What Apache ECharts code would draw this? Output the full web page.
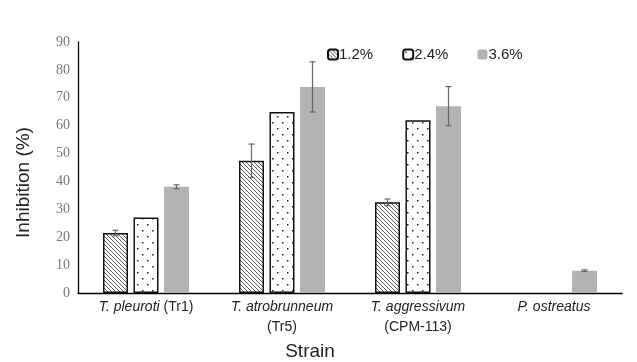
<!DOCTYPE html>
<html><head><meta charset="utf-8">
<script src="https://cdn.jsdelivr.net/npm/echarts@6/dist/echarts.min.js"></script>
<style>html,body{margin:0;padding:0;background:#fff}#c{width:637px;height:362px}</style>
</head><body><div id="c"></div>
<script>
var species = ['T. pleuroti', 'T. atrobrunneum', 'T. aggressivum', 'P. ostreatus'];
var codes = ['(Tr1)', '(Tr5)', '(CPM-113)', ''];
var seriesNames = ['1.2%', '2.4%', '3.6%'];
var v12 = [21.5, 47.4, 32.5, null];
var v24 = [27.1, 64.9, 61.9, null];
var v36 = [38.1, 73.9, 67.0, 8.0];
var e12 = [1.0, 6.0, 1.2, 0];
var e36 = [0.7, 9.0, 7.0, 0.3];
var yTicks = [0, 10, 20, 30, 40, 50, 60, 70, 80, 90];

function makePattern(kind) {
  var c = document.createElement('canvas');
  if (kind === 'hatch') {
    c.width = 4; c.height = 4;
    var g = c.getContext('2d');
    g.fillStyle = '#fff'; g.fillRect(0, 0, 4, 4);
    g.strokeStyle = '#444'; g.lineWidth = 0.9;
    for (var k = -4; k <= 4; k += 4) {
      g.beginPath(); g.moveTo(k, 0); g.lineTo(k + 4, 4); g.stroke();
    }
  } else {
    c.width = 10; c.height = 12;
    var g2 = c.getContext('2d');
    g2.fillStyle = '#fff'; g2.fillRect(0, 0, 10, 12);
    g2.fillStyle = '#222';
    g2.fillRect(2, 2, 1.5, 1.5);
    g2.fillRect(7, 8, 1.5, 1.5);
  }
  return { image: c, repeat: 'repeat' };
}

var barW = 25, gapPx = 5.5;
var step = barW + gapPx;

function errSeries(vals, errs, idx) {
  var data = vals.map(function (v, i) { return [i, v, errs[i]]; });
  return {
    type: 'custom', silent: true, z: 10,
    data: data,
    renderItem: function (params, api) {
      var i = api.value(0), v = api.value(1), e = api.value(2);
      if (!e) return null;
      var top = api.coord([i, v + e]);
      var bot = api.coord([i, v - e]);
      var x = top[0] + (idx - 1) * step;
      var cap = 3;
      var st = { stroke: '#666', lineWidth: 1.2 };
      return { type: 'group', children: [
        { type: 'line', shape: { x1: x, y1: top[1], x2: x, y2: bot[1] }, style: st },
        { type: 'line', shape: { x1: x - cap, y1: top[1], x2: x + cap, y2: top[1] }, style: st },
        { type: 'line', shape: { x1: x - cap, y1: bot[1], x2: x + cap, y2: bot[1] }, style: st }
      ]};
    }
  };
}

var chart = echarts.init(document.getElementById('c'));
chart.setOption({
  animation: false,
  backgroundColor: '#fff',
  grid: { left: 78, right: 15, top: 42, bottom: 69, outerBoundsMode: 'none', containLabel: false },
  legend: {
    left: 322, top: 42, itemWidth: 10, itemHeight: 10, itemGap: 29,
    data: seriesNames,
    textStyle: { fontFamily: 'Liberation Sans, Arial', fontSize: 15, color: '#222', padding: [0, 0, 0, -4] }
  },
  xAxis: {
    type: 'category',
    data: species.map(function (s, i) { return i; }),
    axisLine: { lineStyle: { color: '#000', width: 1.3 } },
    axisTick: { show: false },
    axisLabel: {
      margin: 4, interval: 0,
      formatter: function (val, i) {
        var sep = i === 0 ? ' ' : '\n';
        return '{i|' + species[i] + '}' + (codes[i] ? sep + codes[i] : '');
      },
      fontFamily: 'Liberation Sans, Arial', fontSize: 14, color: '#222', lineHeight: 20,
      rich: { i: { fontStyle: 'italic', fontFamily: 'Liberation Sans, Arial', fontSize: 14, color: '#222', lineHeight: 20 } }
    },
    name: 'Strain', nameLocation: 'middle', nameGap: 47,
    nameTextStyle: { fontFamily: 'Liberation Sans, Arial', fontSize: 19, color: '#222', padding: [0, 80, 0, 0] }
  },
  yAxis: {
    type: 'value', min: yTicks[0], max: yTicks[yTicks.length - 1], interval: 10,
    axisLine: { show: true, lineStyle: { color: '#000', width: 1.3 } },
    axisTick: { show: false },
    splitLine: { show: false },
    axisLabel: { margin: 8, fontFamily: 'Liberation Serif, Times New Roman, serif', fontSize: 14, color: '#777' },
    name: 'Inhibition (%)', nameLocation: 'middle', nameGap: 45,
    nameTextStyle: { fontFamily: 'Liberation Sans, Arial', fontSize: 19, color: '#222', padding: [0, 0, 0, -30] }
  },
  series: [
    { name: seriesNames[0], type: 'bar', data: v12, barWidth: barW, barGap: (gapPx / barW * 100) + '%',
      itemStyle: { color: makePattern('hatch'), borderColor: '#111', borderWidth: 1.5 } },
    { name: seriesNames[1], type: 'bar', data: v24, barWidth: barW,
      itemStyle: { color: makePattern('dots'), borderColor: '#111', borderWidth: 1.5 } },
    { name: seriesNames[2], type: 'bar', data: v36, barWidth: barW,
      itemStyle: { color: '#b3b3b3' } },
    errSeries(v12, e12, 0),
    errSeries(v36, e36, 2)
  ]
});
</script></body></html>
